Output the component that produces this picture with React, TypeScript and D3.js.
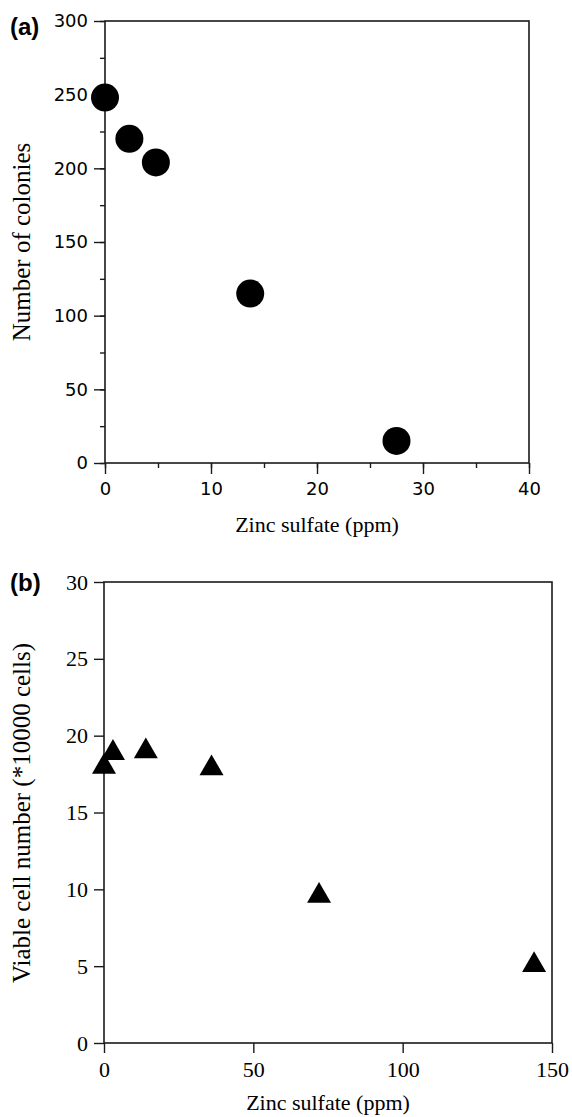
import { useEffect, useRef } from "react";
import * as d3 from "d3";

// panel (a): colonies vs zinc sulfate
const zincA = [0, 2.3, 4.8, 13.7, 27.5];
const colonies = [248, 220, 204, 115, 15];
const xTicksA = [0, 10, 20, 30, 40];
const yTicksA = [0, 50, 100, 150, 200, 250, 300];

// panel (b): viable cells vs zinc sulfate
const zincB = [0, 3, 14, 36, 72, 144];
const viable = [18.2, 19.1, 19.2, 18.1, 9.8, 5.3];
const xTicksB = [0, 50, 100, 150];
const yTicksB = [0, 5, 10, 15, 20, 25, 30];

const W = 572;
const H = 1117;

const App = () => {
  const svgRef = useRef<SVGSVGElement>(null);

  useEffect(() => {
    const svg = d3.select(svgRef.current);
    svg.selectAll("*").remove();
    const stroke = "#1a1a1a";
    const serif = "'Liberation Serif', 'Times New Roman', serif";

    const frame = (g: any, x: any, y: any) => {
      const [x0, x1] = x.range();
      const [y0, y1] = y.range();
      g.append("rect")
        .attr("x", x0)
        .attr("y", y1)
        .attr("width", x1 - x0)
        .attr("height", y0 - y1)
        .attr("fill", "none")
        .attr("stroke", stroke)
        .attr("stroke-width", 1.6);
    };

    const styleAxis = (g: any, font: string, size: number) => {
      g.select(".domain").remove();
      g.selectAll("line").attr("stroke", stroke).attr("stroke-width", 1.4);
      g.selectAll("text")
        .attr("fill", "#000")
        .style("font-family", font)
        .style("font-size", size + "px");
    };

    // ---- panel a ----
    const xA = d3.scaleLinear().domain([0, 40]).range([105, 529]);
    const yA = d3.scaleLinear().domain([0, 300]).range([463, 21]);
    const ga = svg.append("g");
    const fontA = "'DejaVu Sans', sans-serif";

    ga.append("g")
      .attr("transform", "translate(0,463)")
      .call(d3.axisBottom(xA).tickValues(d3.range(0, 41, 5)).tickSize(5).tickFormat(() => ""))
      .call((g: any) => styleAxis(g, fontA, 18));
    ga.append("g")
      .attr("transform", "translate(0,463)")
      .call(d3.axisBottom(xA).tickValues(xTicksA).tickSize(11).tickPadding(8))
      .call((g: any) => styleAxis(g, fontA, 18));
    ga.append("g")
      .attr("transform", "translate(105,0)")
      .call(d3.axisLeft(yA).tickValues(d3.range(0, 301, 25)).tickSize(5).tickFormat(() => ""))
      .call((g: any) => styleAxis(g, fontA, 18));
    ga.append("g")
      .attr("transform", "translate(105,0)")
      .call(d3.axisLeft(yA).tickValues(yTicksA).tickSize(11).tickPadding(6))
      .call((g: any) => styleAxis(g, fontA, 18));
    frame(ga, xA, yA);

    ga.selectAll("circle.pt")
      .data(zincA)
      .join("circle")
      .attr("class", "pt")
      .attr("cx", (d: number) => xA(d))
      .attr("cy", (_d: number, i: number) => yA(colonies[i]))
      .attr("r", 14)
      .attr("fill", "#000");

    ga.append("text")
      .attr("x", 10)
      .attr("y", 35)
      .text("(a)")
      .style("font-family", "'Liberation Sans', Arial, sans-serif")
      .style("font-weight", "bold")
      .style("font-size", "24px");
    ga.append("text")
      .attr("transform", "translate(30,242) rotate(-90)")
      .attr("text-anchor", "middle")
      .text("Number of colonies")
      .style("font-family", serif)
      .style("font-size", "25px");
    ga.append("text")
      .attr("x", (xA(0) + xA(40)) / 2)
      .attr("y", 532)
      .attr("text-anchor", "middle")
      .text("Zinc sulfate (ppm)")
      .style("font-family", serif)
      .style("font-size", "22px");

    // ---- panel b ----
    const xB = d3.scaleLinear().domain([0, 150]).range([104, 552]);
    const yB = d3.scaleLinear().domain([0, 30]).range([1043, 582]);
    const gb = svg.append("g");

    gb.append("g")
      .attr("transform", "translate(0,1043)")
      .call(d3.axisBottom(xB).tickValues(xTicksB).tickSize(10).tickPadding(8))
      .call((g: any) => styleAxis(g, serif, 22));
    gb.append("g")
      .attr("transform", "translate(104,0)")
      .call(d3.axisLeft(yB).tickValues(yTicksB).tickSize(10).tickPadding(6))
      .call((g: any) => styleAxis(g, serif, 22));
    frame(gb, xB, yB);

    // triangle of width 24, shifted so its bounding box is centred on the point
    const triSize = 3 * Math.sqrt(3) * 48;
    const triH = Math.sqrt(triSize / (3 * Math.sqrt(3)));
    const tri = d3.symbol().type(d3.symbolTriangle).size(triSize);
    gb.selectAll("path.tri")
      .data(zincB)
      .join("path")
      .attr("class", "tri")
      .attr("d", tri as any)
      .attr(
        "transform",
        (d: number, i: number) => `translate(${xB(d)},${yB(viable[i]) + triH / 2})`
      )
      .attr("fill", "#000");

    gb.append("text")
      .attr("x", 10)
      .attr("y", 591)
      .text("(b)")
      .style("font-family", "'Liberation Sans', Arial, sans-serif")
      .style("font-weight", "bold")
      .style("font-size", "24px");
    gb.append("text")
      .attr("transform", "translate(30,813) rotate(-90)")
      .attr("text-anchor", "middle")
      .text("Viable cell number (*10000 cells)")
      .style("font-family", serif)
      .style("font-size", "25px");
    gb.append("text")
      .attr("x", (xB(0) + xB(150)) / 2)
      .attr("y", 1110)
      .attr("text-anchor", "middle")
      .text("Zinc sulfate (ppm)")
      .style("font-family", serif)
      .style("font-size", "22px");
  }, []);

  return (
    <svg
      ref={svgRef}
      width={W}
      height={H}
      style={{ position: "absolute", left: 0, top: 0, background: "#fff" }}
    />
  );
};

export default App;
